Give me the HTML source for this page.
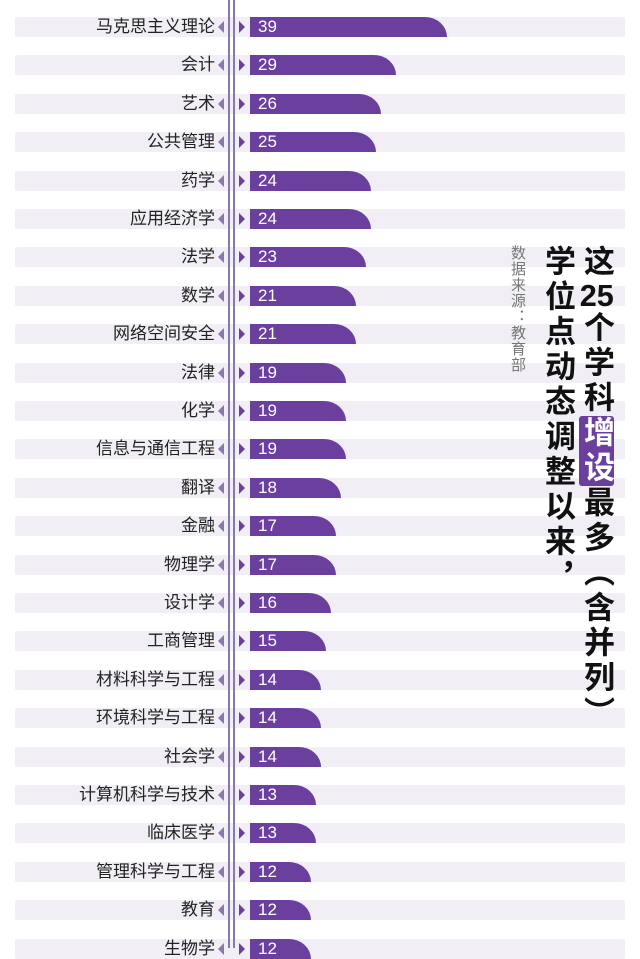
<!DOCTYPE html>
<html><head><meta charset="utf-8"><style>
body{margin:0;width:640px;height:948px;overflow:hidden;background:#fff;position:relative;font-family:"Liberation Sans","Noto Sans CJK SC",sans-serif}
.stripe{position:absolute;left:15px;width:610px;height:20px;background:#f1eff5;border-radius:2px}
.lab{position:absolute;right:425px;font-size:17px;color:#222;line-height:20px;white-space:nowrap}
.tri{position:absolute;width:0;height:0;border-top:6px solid transparent;border-bottom:6px solid transparent}
.bar{position:absolute;left:250px;height:20px;background:#6a3f9e;border-top-right-radius:22px 20px;color:#fff;font-size:17px;line-height:20px;box-sizing:border-box;padding-left:8px}
.vl{position:absolute;top:0;height:948px;width:1.5px;background:#8a78a8}
.col{position:absolute;top:245px;writing-mode:vertical-rl;font-weight:bold;font-size:31px;letter-spacing:4px;color:#111;line-height:36px}
.tcu{text-combine-upright:all}
</style></head><body>
<div id="chart"></div>
<div class="vl" style="left:228px"></div>
<div class="vl" style="left:233px"></div>
<div class="col" style="left:578px">这<span class="tcu">25</span>个学科<span style="background:#6a3f9e;color:#fff;border-radius:3px">增设</span>最多（含并列）</div>
<div class="col" style="left:539px">学位点动态调整以来，</div>
<div class="col" style="left:508px;font-weight:normal;font-size:15px;letter-spacing:1px;color:#777;line-height:18px">数据来源：教育部</div>
<script>
const categories=["马克思主义理论","会计","艺术","公共管理","药学","应用经济学","法学","数学","网络空间安全","法律","化学","信息与通信工程","翻译","金融","物理学","设计学","工商管理","材料科学与工程","环境科学与工程","社会学","计算机科学与技术","临床医学","管理科学与工程","教育","生物学"];
const values=[39,29,26,25,24,24,23,21,21,19,19,19,18,17,17,16,15,14,14,14,13,13,12,12,12];
const x0=250,pxPer=5.05,y0=17,pitch=38.4;
const xScale=v=>v*pxPer;
const yScale=i=>y0+i*pitch;
const root=document.body;
categories.forEach((c,i)=>{
  const y=yScale(i);
  const s=document.createElement('div');s.className='stripe';s.style.top=y+'px';
  
  
  root.insertBefore(s,root.firstChild.nextSibling);
  const l=document.createElement('div');l.className='lab';l.style.top=y+'px';l.textContent=c;
  
  
  root.appendChild(l);
  const t1=document.createElement('div');t1.className='tri';t1.style.cssText+='left:218px;top:'+(y+4)+'px;border-right:6px solid #8a78a8';
  
  
  root.appendChild(t1);
  const t2=document.createElement('div');t2.className='tri';t2.style.cssText+='left:239px;top:'+(y+4)+'px;border-left:6px solid #6a3f9e';
  
  
  root.appendChild(t2);
  const b=document.createElement('div');b.className='bar';b.style.top=y+'px';b.style.width=xScale(values[i])+'px';b.textContent=values[i];
  
  
  root.appendChild(b);
});
</script>
</body></html>
